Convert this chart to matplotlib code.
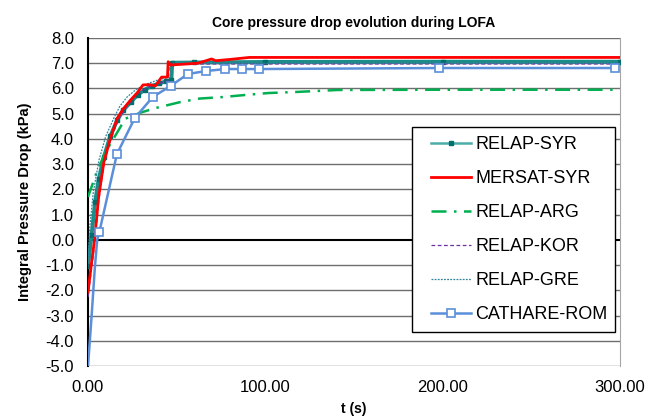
import numpy as np
import matplotlib
matplotlib.use('Agg')
import matplotlib.pyplot as plt
from matplotlib.lines import Line2D
from matplotlib.patches import Rectangle

plt.rcParams['font.family'] = ['Liberation Sans', 'DejaVu Sans']

# RELAP-SYR
syr_t = [0, 2, 4, 6, 9, 12.5, 16.5, 20, 24, 28, 32, 36, 40, 44, 47, 47.5, 60, 100, 200, 300]
syr_v = [-1.04, 0.2, 1.5, 2.4, 3.3, 4.1, 4.75, 5.15, 5.45, 5.75, 5.95, 6.1, 6.2, 6.28, 6.33, 7.02, 7.03, 7.05, 7.06, 7.06]
# MERSAT-SYR
mer_t = [0, 2, 3.7, 6, 9, 12.7, 16.5, 20, 24, 28, 31, 35, 38, 41.5, 44.8, 45.2, 46.5, 55.6, 62, 69.7, 72, 80, 91, 200, 300]
mer_v = [-2.07, -0.9, 0.0, 1.7, 3.1, 4.04, 4.82, 5.2, 5.54, 5.85, 6.14, 6.15, 6.1, 6.45, 6.45, 7.06, 6.93, 6.97, 7.0, 7.17, 7.1, 7.15, 7.23, 7.23, 7.23]
# RELAP-ARG
arg_t = [0, 5, 10, 16, 21, 30, 38.5, 52, 63, 76, 90, 102, 117, 141, 200, 300]
arg_v = [1.7, 2.7, 3.5, 4.2, 4.8, 5.05, 5.23, 5.46, 5.6, 5.66, 5.75, 5.82, 5.86, 5.94, 5.95, 5.95]
# RELAP-KOR
kor_t = [0, 3.7, 6, 9, 13, 17, 22, 28, 34, 40, 45, 46, 100, 300]
kor_v = [-2.27, -0.2, 1.5, 3.0, 4.0, 4.75, 5.3, 5.8, 6.05, 6.2, 6.3, 6.97, 6.97, 6.97]
# RELAP-GRE
gre_t = [0, 1, 3, 6.2, 10, 14.6, 18, 22, 27, 32, 40, 46, 48, 100, 300]
gre_v = [-0.9, 0.5, 1.9, 3.16, 4.1, 4.83, 5.3, 5.66, 5.95, 6.15, 6.35, 6.45, 7.0, 7.0, 7.0]
# CATHARE-ROM
cat_t = [0, 2, 3.9, 5.2, 6.4, 16.3, 26.4, 36.5, 46.6, 56.2, 66.3, 77.5, 87, 96.6, 197.8, 297]
cat_v = [-5, -3.05, -1.06, 0.0, 0.31, 3.4, 4.83, 5.66, 6.1, 6.57, 6.69, 6.77, 6.77, 6.77, 6.81, 6.81]
cat_marks = list(range(4, len(cat_t)))

labels = ['RELAP-SYR', 'MERSAT-SYR', 'RELAP-ARG', 'RELAP-KOR', 'RELAP-GRE', 'CATHARE-ROM']

fig = plt.figure(figsize=(6.46, 4.19), dpi=100)
ax = fig.add_axes([88/646, 53/419, 532/646, 328/419])

for yv in range(-5, 9):
    if yv != 0:
        ax.axhline(yv, color='#6E6E6E', lw=1.0, zorder=0)
ax.axhline(0, color='black', lw=1.5, zorder=1)

ax.plot(syr_t, syr_v, color='#1B8C88', lw=2.8, marker='s', ms=2.5,
        mfc='#006E6C', mec='#006E6C', zorder=3)
l_mer, = ax.plot(mer_t, mer_v, color='#FF0000', lw=2.0, zorder=4)
l_arg, = ax.plot(arg_t, arg_v, color='#00B050', lw=1.8, dashes=(6, 3, 1, 3), zorder=3)
l_kor, = ax.plot(kor_t, kor_v, color='#7030A0', lw=0.9, dashes=(3, 2), zorder=3)
l_gre, = ax.plot(gre_t, gre_v, color='#31859C', lw=0.9, dashes=(1.5, 1), zorder=3)
l_cat, = ax.plot(cat_t, cat_v, color='#5B8FD9', lw=1.8, marker='s', ms=6, mfc='white',
                 mec='#5B8FD9', mew=1.2, markevery=cat_marks, zorder=5)
# legend sample for RELAP-SYR is a thin line with a small marker
h_syr = Line2D([], [], color='#4AADA9', lw=1.8, marker='s', ms=3, mfc='#00706E',
               mec='#00706E', markevery=[1])

ax.set_xlim(0, 300)
ax.set_ylim(-5, 8)
ax.set_xticks([0, 100, 200, 300])
ax.set_xticklabels(['%.2f' % v for v in [0, 100, 200, 300]])
ax.set_yticks(np.arange(-5, 9, 1))
ax.set_yticklabels(['%.1f' % v for v in np.arange(-5, 9, 1)])
ax.tick_params(length=0, labelsize=12, pad=10)

for s in ['top', 'bottom']:
    ax.spines[s].set_visible(False)
ax.spines['right'].set_color('#A6A6A6')
ax.spines['left'].set_color('black')
ax.spines['left'].set_linewidth(1.5)

ax.set_title('Core pressure drop evolution during LOFA', fontsize=10, fontweight='bold', pad=8)
ax.set_ylabel('Integral Pressure Drop (kPa)', fontsize=10.5, fontweight='bold', labelpad=10)
ax.set_xlabel('t (s)', fontsize=10, fontweight='bold', labelpad=5)

# legend box drawn separately so its size matches the original
ax.add_patch(Rectangle((412/646, 1-332/419), 203/646, 205/419, transform=fig.transFigure,
                       facecolor='white', edgecolor='black', lw=1.0, zorder=6, clip_on=False))
leg = ax.legend([h_syr, l_mer, l_arg, l_kor, l_gre, l_cat], labels,
                loc='upper left', bbox_to_anchor=(431/646, 1-136/419), bbox_transform=fig.transFigure,
                fontsize=13, frameon=False, labelspacing=0.94, handlelength=2.2,
                borderpad=0, handletextpad=0.25, borderaxespad=0)
leg.set_zorder(7)

fig.savefig('out.png', dpi=100)
